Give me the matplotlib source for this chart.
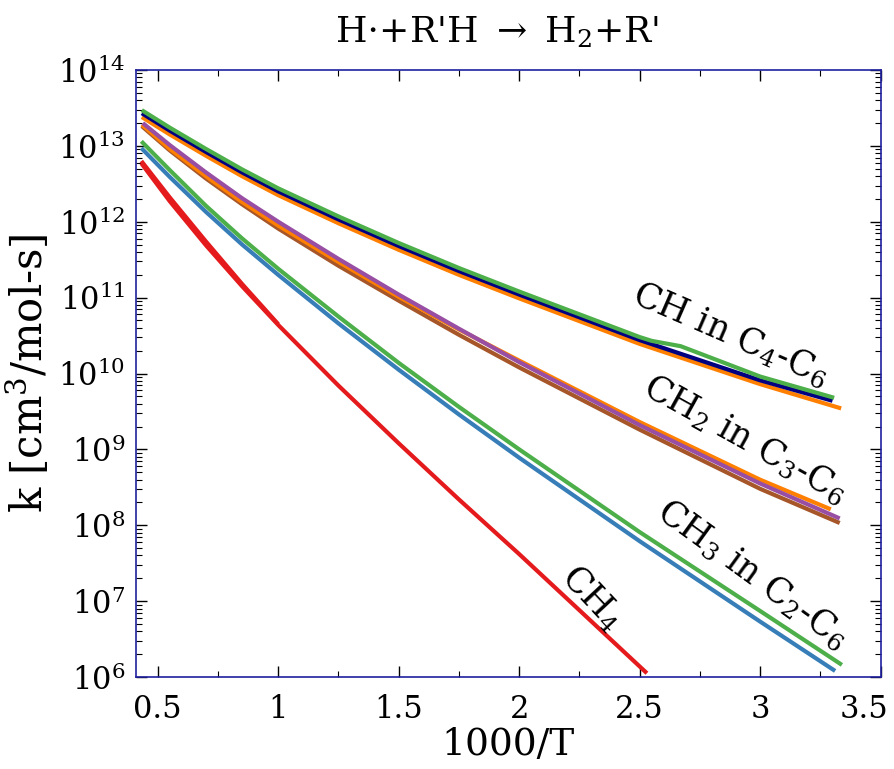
import matplotlib
matplotlib.use('Agg')
import matplotlib.pyplot as plt
import matplotlib.transforms as mtransforms
import numpy as np
from matplotlib.ticker import MultipleLocator, FixedLocator, NullFormatter, FuncFormatter, LogFormatterMathtext

plt.rcParams['font.family'] = 'DejaVu Serif'
plt.rcParams['mathtext.fontset'] = 'dejavuserif'

# ---- rate constants, log10 k [cm3/mol-s] against 1000/T ----

# tertiary CH in C4-C6
x_ch_green = [0.434, 0.55, 0.7, 0.85, 1.0, 1.25, 1.5, 1.75, 2.0, 2.5, 2.55, 2.67, 3.0, 3.307]
lg_ch_green = [13.47, 13.24, 12.96, 12.69, 12.44, 12.07, 11.72, 11.39, 11.08, 10.48, 10.43, 10.36, 9.96, 9.68]
x_ch_navy = [0.434, 0.55, 0.7, 0.85, 1.0, 1.25, 1.5, 1.75, 2.0, 2.5, 3.0, 3.30]
lg_ch_navy = [13.43, 13.20, 12.92, 12.65, 12.40, 12.03, 11.68, 11.35, 11.04, 10.44, 9.91, 9.64]
x_ch_orange = [0.434, 0.55, 0.7, 0.85, 1.0, 1.25, 1.5, 1.75, 2.0, 2.5, 3.0, 3.336]
lg_ch_orange = [13.38, 13.15, 12.87, 12.60, 12.35, 11.98, 11.63, 11.30, 10.99, 10.39, 9.86, 9.54]

# secondary CH2 in C3-C6
x_ch2_purple = [0.438, 0.55, 0.7, 0.85, 1.0, 1.25, 1.5, 1.75, 2.0, 2.5, 3.0, 3.33]
lg_ch2_purple = [13.30, 13.01, 12.65, 12.31, 12.00, 11.51, 11.04, 10.59, 10.15, 9.32, 8.55, 8.09]
x_ch2_orange = [0.434, 0.55, 0.7, 0.85, 1.0, 1.25, 1.5, 1.75, 2.0, 2.5, 3.0, 3.293]
lg_ch2_orange = [13.28, 12.96, 12.60, 12.26, 11.95, 11.47, 11.01, 10.58, 10.17, 9.36, 8.60, 8.21]
x_ch2_brown = [0.434, 0.55, 0.7, 0.85, 1.0, 1.25, 1.5, 1.75, 2.0, 2.5, 3.0, 3.33]
lg_ch2_brown = [13.26, 12.94, 12.57, 12.23, 11.91, 11.42, 10.96, 10.51, 10.08, 9.26, 8.48, 8.03]

# primary CH3 in C2-C6
x_ch3_green = [0.432, 0.55, 0.7, 0.85, 1.0, 1.25, 1.5, 1.75, 2.0, 2.5, 3.0, 3.339]
lg_ch3_green = [13.06, 12.68, 12.21, 11.78, 11.38, 10.75, 10.14, 9.56, 9.00, 7.91, 6.87, 6.16]
x_ch3_blue = [0.432, 0.55, 0.7, 0.85, 1.0, 1.25, 1.5, 1.75, 2.0, 2.5, 3.0, 3.311]
lg_ch3_blue = [12.97, 12.59, 12.13, 11.70, 11.30, 10.66, 10.05, 9.46, 8.89, 7.79, 6.73, 6.08]

# methane (two expressions, close together at high T)
x_ch4 = [0.432, 0.55, 0.7, 0.85, 1.0, 1.25, 1.5, 1.75, 2.0, 2.25, 2.53]
lg_ch4 = [12.77, 12.27, 11.69, 11.15, 10.64, 9.84, 9.08, 8.34, 7.62, 6.88, 6.05]
x_ch4_b = [0.432, 0.55, 0.7, 0.85, 1.0]
lg_ch4_b = [12.80, 12.32, 11.74, 11.18, 10.65]

# decades shown on the k axis
k_decades = [6, 7, 8, 9, 10, 11, 12, 13, 14]

c_red = '#e41a1c'
c_blue = '#377eb8'
c_green = '#4daf4a'
c_purple = '#984ea3'
c_orange = '#ff7f00'
c_brown = '#a65628'
c_navy = '#000080'

fig = plt.figure(figsize=(8.95, 7.69), dpi=100)
ax = fig.add_axes([0.152, 0.1196, 0.832, 0.7894])

lw = 3.0
curves = [
    (x_ch4_b, lg_ch4_b, c_red),
    (x_ch4, lg_ch4, c_red),
    (x_ch3_blue, lg_ch3_blue, c_blue),
    (x_ch3_green, lg_ch3_green, c_green),
    (x_ch2_brown, lg_ch2_brown, c_brown),
    (x_ch2_orange, lg_ch2_orange, c_orange),
    (x_ch2_purple, lg_ch2_purple, c_purple),
    (x_ch_orange, lg_ch_orange, c_orange),
    (x_ch_navy, lg_ch_navy, c_navy),
    (x_ch_green, lg_ch_green, c_green),
]
for xs, lg, c in curves:
    ax.plot(xs, 10.0 ** np.array(lg), color=c, lw=lw, solid_capstyle='butt',
            solid_joinstyle='round')

ax.set_yscale('log')
ax.set_xlim(0.41, 3.5)
ax.set_ylim(10.0 ** k_decades[0], 10.0 ** k_decades[-1])

ax.xaxis.set_major_locator(MultipleLocator(0.5))
ax.xaxis.set_minor_locator(MultipleLocator(0.25))
ax.xaxis.set_major_formatter(FuncFormatter(lambda v, p: '%g' % v))

major_k = [10.0 ** d for d in k_decades]
minor_k = [m * 10.0 ** d for d in k_decades[:-1] for m in range(2, 10)]
ax.yaxis.set_major_locator(FixedLocator(major_k))
ax.yaxis.set_major_formatter(LogFormatterMathtext())
ax.yaxis.set_minor_locator(FixedLocator(minor_k))
ax.yaxis.set_minor_formatter(NullFormatter())

ax.tick_params(which='both', direction='in', top=True, right=True, color='black')
ax.tick_params(which='major', length=8, width=1.0, labelsize=22)
ax.tick_params(which='minor', length=4, width=0.8)
ax.tick_params(axis='x', which='major', pad=12)
ax.tick_params(axis='y', which='major', pad=8)

for s in ax.spines.values():
    s.set_color('#2020a0')
    s.set_linewidth(1.2)

ax.set_xlabel('1000/T', fontsize=27, labelpad=2)
ax.set_ylabel(r'k [cm$^3$/mol-s]', fontsize=30, labelpad=4)
ax.set_title(r"H$\cdot$+R'H $\rightarrow$ H$_2$+R'", fontsize=26, pad=20, x=0.485)

# pull the last x tick label inside the figure
fig.canvas.draw()
shift = mtransforms.ScaledTranslation(-12 / 72, 0, fig.dpi_scale_trans)
for t in ax.get_xticklabels():
    if t.get_text() == '3.5':
        t.set_transform(t.get_transform() + shift)

# curve group labels
lab = dict(fontsize=25, ha='center', va='center', rotation_mode='anchor')
ax.text(2.876, 10 ** 10.51, r'CH in C$_4$-C$_6$', rotation=-23.5, **lab)
ax.text(2.938, 10 ** 9.125, r'CH$_2$ in C$_3$-C$_6$', rotation=-29, **lab)
ax.text(2.967, 10 ** 7.35, r'CH$_3$ in C$_2$-C$_6$', rotation=-36, **lab)
ax.text(2.303, 10 ** 7.04, r'CH$_4$', rotation=-47, **lab)

fig.savefig('out.png', dpi=100)
